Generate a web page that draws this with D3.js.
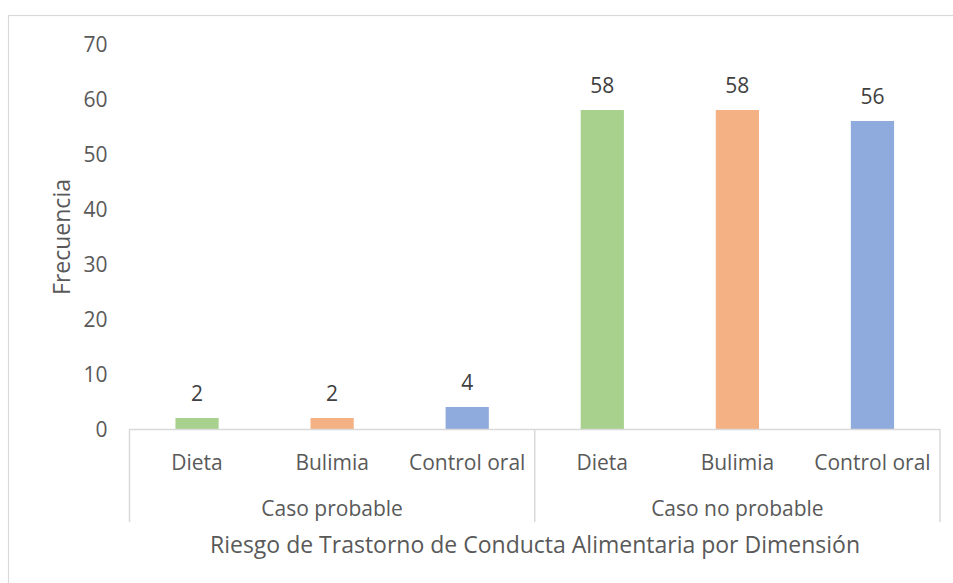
<!DOCTYPE html>
<html>
<head>
<meta charset="utf-8">
<script src="https://cdn.jsdelivr.net/npm/d3@7"></script>
<style>
  body { margin: 0; background: #fff; }
  text { font-family: "Open Sans", "Noto Sans", sans-serif; }
</style>
</head>
<body>
<div id="chart"></div>
<script>
// Data
var groups = ["Caso probable", "Caso no probable"];
var dimensions = ["Dieta", "Bulimia", "Control oral"];
var caseProbable = [2, 2, 4];
var caseNoProbable = [58, 58, 56];
var yTicks = [0, 10, 20, 30, 40, 50, 60, 70];
var colors = ["#a9d18e", "#f4b183", "#8faadc"];

var width = 953, height = 583;
var margin = { top: 44, right: 13, bottom: 154, left: 129.5 };
var chartWidth = width - margin.left - margin.right,
    chartHeight = height - margin.top - margin.bottom;

var svg = d3.select("#chart").append("svg")
    .attr("width", width)
    .attr("height", height);

// chart area border (only left/top visible)
svg.append("rect")
    .attr("x", 8.5).attr("y", 15.5)
    .attr("width", width).attr("height", height)
    .attr("fill", "none")
    .attr("stroke", "#d9d9d9")
    .attr("stroke-width", 1.2);

var rows = [];
groups.forEach(function (grp, gi) {
    var vals = gi === 0 ? caseProbable : caseNoProbable;
    dimensions.forEach(function (dim, di) {
        rows.push({ key: grp + "|" + dim, group: grp, dim: dim, value: vals[di], color: colors[di] });
    });
});

var g = svg.append("g")
    .attr("transform", "translate(" + margin.left + "," + margin.top + ")");

var x = d3.scaleBand()
    .domain(rows.map(function (d) { return d.key; }))
    .range([0, chartWidth])
    .paddingInner(0.68)
    .paddingOuter(0.34);

var y = d3.scaleLinear()
    .domain([0, 70])
    .range([chartHeight, 0]);

var step = x.step();

// y tick labels
g.selectAll(".ytick")
    .data(yTicks)
    .enter().append("text")
    .attr("class", "ytick")
    .attr("x", -22)
    .attr("y", function (d) { return y(d); })
    .attr("dy", "0.36em")
    .attr("text-anchor", "end")
    .attr("font-size", "21px")
    .attr("fill", "#595959")
    .text(function (d) { return d; });

// bars
g.selectAll(".bar")
    .data(rows)
    .enter().append("rect")
    .attr("class", "bar")
    .attr("x", function (d) { return x(d.key); })
    .attr("y", function (d) { return y(d.value); })
    .attr("width", x.bandwidth())
    .attr("height", function (d) { return chartHeight - y(d.value); })
    .attr("fill", function (d) { return d.color; });

// data labels
g.selectAll(".label")
    .data(rows)
    .enter().append("text")
    .attr("class", "label")
    .attr("x", function (d) { return x(d.key) + x.bandwidth() / 2; })
    .attr("y", function (d) { return y(d.value) - 25; })
    .attr("dy", "0.36em")
    .attr("text-anchor", "middle")
    .attr("font-size", "21px")
    .attr("fill", "#404040")
    .text(function (d) { return d.value; });

// x axis line
g.append("line")
    .attr("x1", 0).attr("x2", chartWidth)
    .attr("y1", chartHeight + 0.5).attr("y2", chartHeight + 0.5)
    .attr("stroke", "#d9d9d9").attr("stroke-width", 1.5);

// group dividers
var dividers = [0, 3, 6];
g.selectAll(".divider")
    .data(dividers)
    .enter().append("line")
    .attr("class", "divider")
    .attr("x1", function (d) { return d * step; })
    .attr("x2", function (d) { return d * step; })
    .attr("y1", chartHeight)
    .attr("y2", chartHeight + 93)
    .attr("stroke", "#d9d9d9").attr("stroke-width", 1.5);

// category labels
g.selectAll(".cat")
    .data(rows)
    .enter().append("text")
    .attr("class", "cat")
    .attr("x", function (d) { return x(d.key) + x.bandwidth() / 2; })
    .attr("y", chartHeight + 33)
    .attr("dy", "0.36em")
    .attr("text-anchor", "middle")
    .attr("font-size", "21px")
    .attr("fill", "#595959")
    .text(function (d) { return d.dim; });

// group labels
g.selectAll(".grp")
    .data(groups)
    .enter().append("text")
    .attr("class", "grp")
    .attr("x", function (d, i) { return (i * 3 + 1.5) * step; })
    .attr("y", chartHeight + 79)
    .attr("dy", "0.36em")
    .attr("text-anchor", "middle")
    .attr("font-size", "21px")
    .attr("fill", "#595959")
    .text(function (d) { return d; });

// axis titles
svg.append("text")
    .attr("x", 535)
    .attr("y", 545)
    .attr("dy", "0.36em")
    .attr("text-anchor", "middle")
    .attr("font-size", "23px")
    .attr("fill", "#595959")
    .text("Riesgo de Trastorno de Conducta Alimentaria por Dimensión");

svg.append("text")
    .attr("transform", "translate(62,237) rotate(-90)")
    .attr("dy", "0.36em")
    .attr("text-anchor", "middle")
    .attr("font-size", "23px")
    .attr("fill", "#595959")
    .text("Frecuencia");
</script>
</body>
</html>
